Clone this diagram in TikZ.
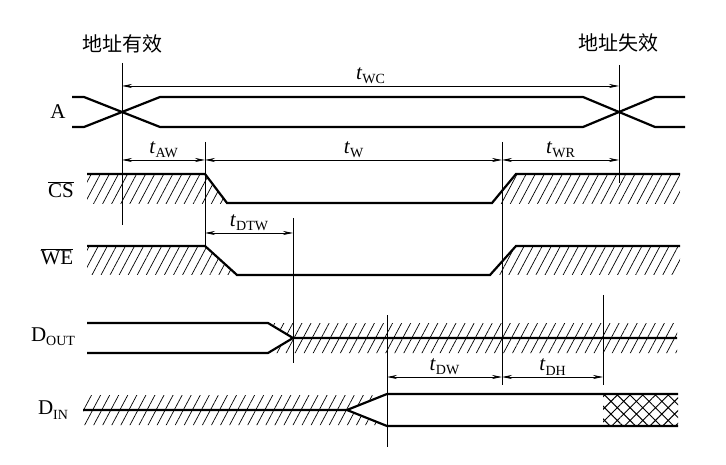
\documentclass[tikz,border=0pt]{standalone}
\usepackage{fontspec}
\setmainfont{Liberation Serif}
\newfontfamily\cjk{Noto Sans CJK SC}
\usetikzlibrary{arrows.meta,patterns.meta}

\newcommand{\sgsub}[1]{\raisebox{-0.45ex}{\fontsize{14}{14}\selectfont #1}}
\newcommand{\tlab}[1]{\textit{t}\sgsub{#1}}

\tikzset{
  sig/.style={line width=2.2pt},
  guide/.style={line width=0.7pt},
  dim/.style={line width=0.7pt, {Stealth[length=10pt,width=4pt]}-{Stealth[length=10pt,width=4pt]}},
  hatch/.style={pattern={Lines[angle=62,distance=8pt,line width=0.7pt]}},
  xhatch/.style={pattern={Hatch[angle=45,distance=9pt,line width=1pt]}},
  lab/.style={font=\fontsize{21}{21}\selectfont, inner sep=1pt},
  tl/.style={lab, above, inner sep=1.5pt}
}

\begin{document}
\begin{tikzpicture}[x=1pt,y=-1pt]
	\useasboundingbox (0,0) rectangle (726,465);

	% guide lines
	\coordinate (g1t) at (122,63);  \coordinate (g1b) at (122,225);
	\coordinate (g2t) at (619,65);  \coordinate (g2b) at (619,183);
	\coordinate (g3t) at (205,142); \coordinate (g3b) at (205,247);
	\coordinate (g4t) at (502,142); \coordinate (g4b) at (502,385);
	\coordinate (g5t) at (293,218); \coordinate (g5b) at (293,363);
	\coordinate (g6t) at (387,315); \coordinate (g6b) at (387,447);
	\coordinate (g7t) at (603,295); \coordinate (g7b) at (603,385);
	\foreach \g in {1,...,7}
		\draw[guide] (g\g t) -- (g\g b);

	% hatching
	\fill[hatch] (87,174) -- (205,174) -- (227,204) -- (87,204) -- cycle;
	\fill[hatch] (516,174) -- (680,174) -- (680,204) -- (491,204) -- cycle;
	\fill[hatch] (87,246) -- (205,246) -- (237,275) -- (87,275) -- cycle;
	\fill[hatch] (516,246) -- (680,246) -- (680,275) -- (490,275) -- cycle;
	\fill[hatch] (268,323) -- (677,323) -- (677,338) -- (293,338) -- cycle;
	\fill[hatch] (293,338) -- (677,338) -- (677,353) -- (268,353) -- cycle;
	\fill[hatch] (83,395) -- (385,395) -- (347,410) -- (83,410) -- cycle;
	\fill[hatch] (83,410) -- (347,410) -- (385,425) -- (83,425) -- cycle;
	\fill[xhatch] (603,394) rectangle (678,426);

	% signals
	\draw[sig] (72,97) -- (84,97) -- (160,127) -- (583,127) -- (655,97) -- (685,97);
	\draw[sig] (72,127) -- (84,127) -- (160,97) -- (583,97) -- (655,127) -- (685,127);
	\draw[sig] (87,174) -- (205,174) -- (227,203) -- (492,203) -- (516,174) -- (680,174);
	\draw[sig] (87,246) -- (205,246) -- (237,275) -- (490,275) -- (516,246) -- (680,246);
	\draw[sig] (87,323) -- (268,323) -- (293,338) -- (677,338);
	\draw[sig] (87,353) -- (268,353) -- (293,338);
	\draw[sig] (83,410) -- (347,410) -- (387,394) -- (678,394);
	\draw[sig] (347,410) -- (387,426) -- (678,426);

	% timing intervals
	\coordinate (wc1) at (122,86);  \coordinate (wc2) at (619,86);
	\coordinate (aw1) at (122,160); \coordinate (aw2) at (205,160);
	\coordinate (wr1) at (502,160); \coordinate (wr2) at (619,160);
	\coordinate (dt1) at (205,233); \coordinate (dt2) at (293,233);
	\coordinate (dw1) at (387,377); \coordinate (dw2) at (502,377);
	\coordinate (dh2) at (603,377);

	\draw[dim] (wc1) -- node[tl] (twc) {\tlab{WC}} (wc2);
	\draw[dim] (aw1) -- node[tl] (taw) {\tlab{AW}} (aw2);
	\draw[dim] (aw2) -- node[tl] (tw) {\tlab{W}} (wr1);
	\draw[dim] (wr1) -- node[tl] (twr) {\tlab{WR}} (wr2);
	\draw[dim] (dt1) -- node[tl] (tdtw) {\tlab{DTW}} (dt2);
	\draw[dim] (dw1) -- node[tl] (tdw) {\tlab{DW}} (dw2);
	\draw[dim] (dw2) -- node[tl] (tdh) {\tlab{DH}} (dh2);

	% labels
	\node[lab] (valid) at (122,44) {\fontsize{20}{20}\cjk 地址有效};
	\node[lab] (invalid) at (618,43) {\fontsize{20}{20}\cjk 地址失效};
	\node[lab] (la) at (58,112) {A};
	\node[lab] (lcs) at (61,190) {$\overline{\mbox{CS}}$};
	\node[lab] (lwe) at (57,257) {$\overline{\mbox{WE}}$};
	\node[lab] (ldo) at (53,337) {D\sgsub{OUT}};
	\node[lab] (ldi) at (53,410) {D\sgsub{IN}};
\end{tikzpicture}
\end{document}
